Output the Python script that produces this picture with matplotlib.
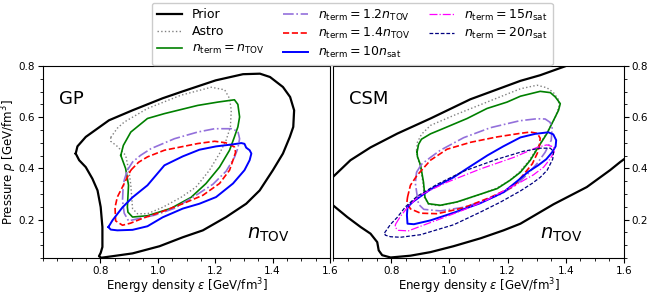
import matplotlib
matplotlib.use("Agg")
import matplotlib.pyplot as plt
from matplotlib.ticker import AutoMinorLocator, FixedLocator

# ---------------- data ----------------
# GP panel (left): closed 68% contours in (energy density, pressure)
gp_prior_x = [0.714, 0.720, 0.749, 0.830, 0.912, 1.017, 1.087, 1.202, 1.297, 1.356, 1.391, 1.436,
              1.461, 1.475, 1.472, 1.460, 1.436, 1.401, 1.355, 1.308, 1.238, 1.157, 1.087, 1.006,
              0.912, 0.842, 0.803, 0.795, 0.801, 0.807, 0.807, 0.801, 0.790, 0.772, 0.749, 0.726]
gp_prior_y = [0.458, 0.486, 0.523, 0.588, 0.627, 0.674, 0.701, 0.744, 0.768, 0.770, 0.757, 0.718,
              0.679, 0.627, 0.562, 0.523, 0.458, 0.393, 0.314, 0.262, 0.210, 0.158, 0.131, 0.096,
              0.068, 0.057, 0.051, 0.057, 0.070, 0.093, 0.171, 0.249, 0.314, 0.360, 0.405, 0.432]

gp_astro_x = [0.836, 0.859, 0.883, 0.964, 1.081, 1.186, 1.233, 1.250, 1.256, 1.253, 1.238, 1.215,
              1.180, 1.133, 1.081, 1.017, 0.964, 0.929, 0.912, 0.906, 0.900, 0.888, 0.859, 0.836]
gp_astro_y = [0.521, 0.557, 0.581, 0.634, 0.686, 0.717, 0.707, 0.673, 0.627, 0.562, 0.510, 0.458,
              0.393, 0.327, 0.287, 0.248, 0.223, 0.223, 0.243, 0.334, 0.386, 0.451, 0.486, 0.506]

gp_tov_x = [0.871, 0.880, 0.906, 0.964, 1.023, 1.139, 1.209, 1.267, 1.279, 1.285, 1.279, 1.267,
            1.250, 1.215, 1.168, 1.116, 1.046, 0.964, 0.912, 0.896, 0.894, 0.898, 0.888]
gp_tov_y = [0.451, 0.490, 0.542, 0.595, 0.614, 0.646, 0.659, 0.668, 0.650, 0.601, 0.562, 0.523,
            0.471, 0.405, 0.341, 0.287, 0.244, 0.215, 0.210, 0.229, 0.249, 0.334, 0.399]

gp_12_x = [0.894, 0.912, 0.940, 0.976, 1.058, 1.139, 1.198, 1.256, 1.279, 1.285, 1.279, 1.267,
           1.238, 1.192, 1.133, 1.058, 0.988, 0.929, 0.898, 0.883, 0.877, 0.879, 0.883]
gp_12_y = [0.393, 0.425, 0.451, 0.477, 0.516, 0.542, 0.555, 0.555, 0.545, 0.516, 0.479, 0.443,
           0.389, 0.338, 0.295, 0.244, 0.217, 0.203, 0.195, 0.225, 0.275, 0.322, 0.354]

gp_14_x = [0.906, 0.933, 0.964, 1.023, 1.081, 1.139, 1.198, 1.237, 1.267, 1.271, 1.262, 1.250,
           1.215, 1.157, 1.087, 1.017, 0.947, 0.905, 0.877, 0.853, 0.851, 0.859, 0.883]
gp_14_y = [0.393, 0.424, 0.445, 0.471, 0.484, 0.497, 0.506, 0.500, 0.484, 0.463, 0.432, 0.393,
           0.341, 0.295, 0.262, 0.232, 0.205, 0.186, 0.178, 0.195, 0.248, 0.288, 0.341]

gp_10s_x = [0.828, 0.842, 0.877, 0.912, 0.964, 1.023, 1.087, 1.145, 1.203, 1.262, 1.291, 1.302,
            1.308, 1.320, 1.326, 1.320, 1.302, 1.262, 1.203, 1.145, 1.087, 1.017, 0.964, 0.912,
            0.859, 0.836]
gp_10s_y = [0.171, 0.197, 0.248, 0.287, 0.334, 0.412, 0.447, 0.473, 0.486, 0.494, 0.499, 0.496,
            0.481, 0.471, 0.458, 0.432, 0.393, 0.341, 0.288, 0.262, 0.243, 0.209, 0.174, 0.160,
            0.158, 0.161]

# CSM panel (right)
csm_prior_up_x = [0.602, 0.660, 0.729, 0.821, 0.935, 1.072, 1.244, 1.312, 1.398, 1.450]
csm_prior_up_y = [0.369, 0.432, 0.482, 0.536, 0.595, 0.670, 0.742, 0.764, 0.799, 0.822]
csm_prior_lo_x = [0.602, 0.649, 0.695, 0.729, 0.752, 0.757, 0.769, 0.798, 0.866, 0.935, 1.014,
                  1.107, 1.186, 1.244, 1.358, 1.472, 1.552, 1.587, 1.611]
csm_prior_lo_y = [0.254, 0.210, 0.171, 0.145, 0.112, 0.080, 0.061, 0.052, 0.059, 0.073, 0.096,
                  0.127, 0.158, 0.184, 0.260, 0.327, 0.393, 0.425, 0.445]

csm_astro_x = [0.887, 0.890, 0.904, 0.935, 1.015, 1.129, 1.244, 1.301, 1.335, 1.357, 1.374, 1.377,
               1.364, 1.336, 1.305, 1.275, 1.240, 1.206, 1.161, 1.093, 1.024, 0.969, 0.928, 0.914,
               0.909, 0.899, 0.889]
csm_astro_y = [0.471, 0.502, 0.533, 0.568, 0.607, 0.659, 0.711, 0.725, 0.715, 0.697, 0.670, 0.643,
               0.600, 0.541, 0.486, 0.432, 0.385, 0.352, 0.322, 0.293, 0.268, 0.254, 0.260, 0.287,
               0.346, 0.412, 0.447]

csm_tov_x = [0.889, 0.894, 0.904, 0.935, 0.969, 1.061, 1.129, 1.198, 1.244, 1.312, 1.347, 1.364,
             1.381, 1.375, 1.358, 1.335, 1.306, 1.278, 1.244, 1.209, 1.164, 1.095, 1.026, 0.969,
             0.928, 0.916, 0.911, 0.901, 0.890]
csm_tov_y = [0.464, 0.494, 0.514, 0.535, 0.551, 0.595, 0.634, 0.659, 0.682, 0.701, 0.696, 0.679,
             0.653, 0.627, 0.588, 0.536, 0.484, 0.432, 0.385, 0.354, 0.321, 0.295, 0.269, 0.256,
             0.262, 0.287, 0.346, 0.412, 0.447]

csm_12_x = [0.887, 0.904, 0.935, 0.969, 1.049, 1.141, 1.241, 1.301, 1.329, 1.346, 1.353, 1.350,
            1.329, 1.302, 1.268, 1.227, 1.176, 1.124, 1.048, 0.969, 0.912, 0.894, 0.889, 0.883]
csm_12_y = [0.385, 0.416, 0.443, 0.471, 0.520, 0.559, 0.586, 0.594, 0.593, 0.580, 0.557, 0.510,
            0.463, 0.420, 0.377, 0.334, 0.299, 0.275, 0.248, 0.234, 0.240, 0.260, 0.295, 0.342]

csm_14_x = [0.856, 0.866, 0.889, 0.935, 0.992, 1.073, 1.164, 1.244, 1.278, 1.302, 1.312, 1.309,
            1.302, 1.285, 1.257, 1.221, 1.141, 1.049, 0.958, 0.901, 0.866, 0.854]
csm_14_y = [0.287, 0.334, 0.373, 0.432, 0.475, 0.502, 0.523, 0.537, 0.542, 0.537, 0.518, 0.486,
            0.459, 0.418, 0.379, 0.330, 0.287, 0.246, 0.223, 0.225, 0.242, 0.268]

csm_10s_x = [0.856, 0.873, 0.901, 0.935, 1.014, 1.072, 1.131, 1.185, 1.244, 1.295, 1.340, 1.357,
             1.367, 1.365, 1.353, 1.333, 1.305, 1.271, 1.237, 1.186, 1.106, 1.015, 0.935, 0.878,
             0.856, 0.854]
csm_10s_y = [0.248, 0.268, 0.291, 0.318, 0.365, 0.408, 0.451, 0.486, 0.521, 0.535, 0.541, 0.533,
             0.510, 0.486, 0.463, 0.436, 0.412, 0.387, 0.354, 0.307, 0.264, 0.227, 0.197, 0.182,
             0.184, 0.217]

csm_15s_x = [0.815, 0.832, 0.852, 0.883, 0.912, 0.992, 1.107, 1.221, 1.301, 1.335, 1.358, 1.360,
             1.346, 1.324, 1.289, 1.244, 1.175, 1.129, 1.049, 0.969, 0.901, 0.859, 0.825, 0.813]
csm_15s_y = [0.182, 0.213, 0.242, 0.279, 0.303, 0.346, 0.398, 0.443, 0.482, 0.492, 0.484, 0.463,
             0.437, 0.405, 0.375, 0.346, 0.305, 0.277, 0.238, 0.203, 0.174, 0.156, 0.158, 0.170]

csm_20s_x = [0.777, 0.798, 0.821, 0.849, 0.889, 0.958, 1.049, 1.164, 1.255, 1.312, 1.347, 1.358,
             1.355, 1.336, 1.312, 1.285, 1.244, 1.175, 1.106, 1.015, 0.901, 0.832, 0.798, 0.780]
csm_20s_y = [0.148, 0.182, 0.209, 0.250, 0.291, 0.338, 0.389, 0.436, 0.467, 0.479, 0.479, 0.465,
             0.436, 0.393, 0.365, 0.342, 0.312, 0.268, 0.229, 0.180, 0.141, 0.131, 0.133, 0.139]

panel_names = ["GP", "CSM"]
x_ticks = [0.8, 1.0, 1.2, 1.4, 1.6]
y_ticks = [0.2, 0.4, 0.6, 0.8]

# ---------------- styles ----------------
st_prior = dict(color="black", lw=1.6, ls="-", solid_joinstyle="round")
st_astro = dict(color="gray", lw=1.0, ls=":")
st_tov = dict(color="green", lw=1.2, ls="-", solid_joinstyle="round")
st_12 = dict(color="mediumpurple", lw=1.2, ls="-.")
st_14 = dict(color="red", lw=1.2, ls="--")
st_10s = dict(color="blue", lw=1.4, ls="-", solid_joinstyle="round")
st_15s = dict(color="magenta", lw=0.9, ls="-.")
st_20s = dict(color="navy", lw=0.9, ls=(0, (3, 1.5)))


def closed(xs, ys):
    return list(xs) + [xs[0]], list(ys) + [ys[0]]


fig = plt.figure(figsize=(6.5, 2.95), dpi=100)
axL = fig.add_axes([43 / 650, 1 - 258 / 295, 287 / 650, 192 / 295])
axR = fig.add_axes([333 / 650, 1 - 258 / 295, 291 / 650, 192 / 295])

# left panel
h = {}
h["prior"], = axL.plot(*closed(gp_prior_x, gp_prior_y), **st_prior)
h["astro"], = axL.plot(*closed(gp_astro_x, gp_astro_y), **st_astro)
h["tov"], = axL.plot(*closed(gp_tov_x, gp_tov_y), **st_tov)
h["12"], = axL.plot(*closed(gp_12_x, gp_12_y), **st_12)
h["14"], = axL.plot(*closed(gp_14_x, gp_14_y), **st_14)
h["10s"], = axL.plot(*closed(gp_10s_x, gp_10s_y), **st_10s)

# right panel
axR.plot(csm_prior_up_x, csm_prior_up_y, **st_prior)
axR.plot(csm_prior_lo_x, csm_prior_lo_y, **st_prior)
axR.plot(*closed(csm_astro_x, csm_astro_y), **st_astro)
axR.plot(*closed(csm_tov_x, csm_tov_y), **st_tov)
axR.plot(*closed(csm_12_x, csm_12_y), **st_12)
axR.plot(*closed(csm_14_x, csm_14_y), **st_14)
axR.plot(*closed(csm_10s_x, csm_10s_y), **st_10s)
h["15s"], = axR.plot(*closed(csm_15s_x, csm_15s_y), **st_15s)
h["20s"], = axR.plot(*closed(csm_20s_x, csm_20s_y), **st_20s)

for ax, name in zip([axL, axR], panel_names):
    ax.set_xlim(0.6, 1.6)
    ax.set_ylim(0.05, 0.8)
    ax.xaxis.set_major_locator(FixedLocator(x_ticks))
    ax.yaxis.set_major_locator(FixedLocator(y_ticks))
    ax.xaxis.set_minor_locator(AutoMinorLocator(4))
    ax.yaxis.set_minor_locator(AutoMinorLocator(4))
    ax.tick_params(which="major", labelsize=7.5, length=3.5, width=0.8, pad=2)
    ax.tick_params(which="minor", length=2, width=0.6)
    ax.set_xlabel(r"Energy density $\varepsilon$ [GeV/fm$^3$]", fontsize=8.5, labelpad=0.5)
    ax.text(0.655, 0.673, name, fontsize=13, ha="left", va="center")
    ax.text(1.31, 0.14, r"$n_{\rm TOV}$", fontsize=14, ha="left", va="center")

axL.set_ylabel(r"Pressure $p$ [GeV/fm$^3$]", fontsize=8.5)
axL.yaxis.set_label_coords(-0.082, 0.5)
axR.yaxis.tick_right()
axR.yaxis.set_label_position("right")

handles = [h["prior"], h["astro"], h["tov"], h["12"], h["14"], h["10s"], h["15s"], h["20s"]]
labels = ["Prior", "Astro", r"$n_{\rm term}=n_{\rm TOV}$", r"$n_{\rm term}=1.2n_{\rm TOV}$",
          r"$n_{\rm term}=1.4n_{\rm TOV}$", r"$n_{\rm term}=10n_{\rm sat}$",
          r"$n_{\rm term}=15n_{\rm sat}$", r"$n_{\rm term}=20n_{\rm sat}$"]
fig.legend(handles, labels, loc="upper center", bbox_to_anchor=(0.542, 1.0), ncol=3,
           fontsize=9, labelspacing=0.3, columnspacing=1.5, handlelength=2.0,
           borderaxespad=0.2, framealpha=1.0)

fig.savefig("out.png", dpi=100)
